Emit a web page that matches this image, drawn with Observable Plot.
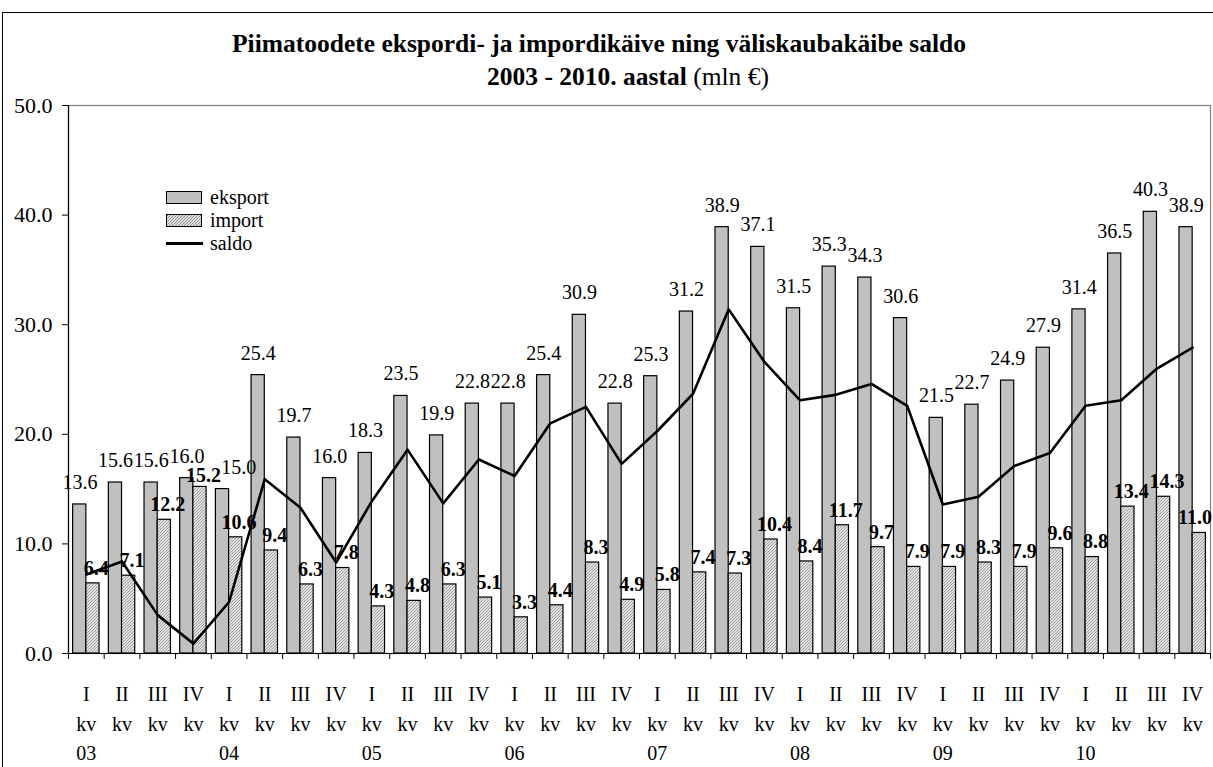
<!DOCTYPE html>
<html><head><meta charset="utf-8">
<script src="https://cdn.jsdelivr.net/npm/d3@7"></script>
<script src="https://cdn.jsdelivr.net/npm/@observablehq/plot@0.6"></script>
<style>
html,body{margin:0;padding:0;background:#fff;overflow:hidden;width:1213px;height:767px;position:relative;}
#frame{position:absolute;left:2px;top:12px;width:1240px;height:800px;border:1.5px solid #000;box-sizing:border-box;}
#title{position:absolute;left:0;width:1198px;top:27px;text-align:center;font-family:"Liberation Serif","Times New Roman",serif;font-weight:bold;font-size:25.5px;line-height:33px;color:#000;}
#title .l2{position:relative;left:29px;}
#title .n{font-weight:normal;}
#chart{position:absolute;left:0;top:90px;}
#legend{position:absolute;left:166px;top:186px;font-family:"Liberation Serif","Times New Roman",serif;font-size:20px;line-height:23px;color:#000;}
#legend .row{display:flex;align-items:center;height:23px;}
#legend .sw{width:34px;height:11px;border:1.3px solid #000;margin-right:8px;}
#legend .ln{width:37px;height:3px;background:#000;margin-right:7px;}
</style>
</head><body>
<div id="frame"></div>
<div id="title">Piimatoodete ekspordi- ja impordikäive ning väliskaubakäibe saldo<br><span class="l2">2003 - 2010. aastal <span class="n">(mln €)</span></span></div>
<div id="chart"></div>
<div id="legend">
  <div class="row"><div class="sw" style="background:#c0c0c0"></div>eksport</div>
  <div class="row"><div class="sw" style="background:repeating-linear-gradient(-45deg,#e2e2e2 0 1.3px,#8c8c8c 1.3px 2.1px)"></div>import</div>
  <div class="row"><div class="ln"></div>saldo</div>
</div>
<script>
const quarterNames = ["I", "II", "III", "IV"];
const years = ["03", "04", "05", "06", "07", "08", "09", "10"];
const eksport = [13.6, 15.6, 15.6, 16.0, 15.0, 25.4, 19.7, 16.0, 18.3, 23.5, 19.9, 22.8,
                 22.8, 25.4, 30.9, 22.8, 25.3, 31.2, 38.9, 37.1, 31.5, 35.3, 34.3, 30.6,
                 21.5, 22.7, 24.9, 27.9, 31.4, 36.5, 40.3, 38.9];
const importVals = [6.4, 7.1, 12.2, 15.2, 10.6, 9.4, 6.3, 7.8, 4.3, 4.8, 6.3, 5.1,
                    3.3, 4.4, 8.3, 4.9, 5.8, 7.4, 7.3, 10.4, 8.4, 11.7, 9.7, 7.9,
                    7.9, 8.3, 7.9, 9.6, 8.8, 13.4, 14.3, 11.0];
const saldo = [7.2, 8.4, 3.5, 0.9, 4.7, 15.9, 13.3, 8.3, 13.9, 18.6, 13.7, 17.7,
               16.2, 21.0, 22.5, 17.3, 20.3, 23.7, 31.4, 26.6, 23.1, 23.6, 24.6, 22.6,
               13.6, 14.3, 17.1, 18.3, 22.6, 23.1, 26.0, 27.9];
const yTicks = [0, 10, 20, 30, 40, 50];

const rows = eksport.map((e, i) => ({
  i,
  q: quarterNames[i % 4],
  year: i % 4 === 0 ? years[i / 4] : "",
  eksport: e,
  imp: importVals[i],
  saldo: saldo[i]
}));

// layout
const W = 1213, H = 677, mt = 15, mb = 114, ml = 68, mr = 3;
const nCat = rows.length, yMax = 50;
const pxX = (W - ml - mr) / nCat, pxY = (H - mt - mb) / yMax;

// value labels with simple collision avoidance
const fs = 20, lh = 18;
const labels = [];
rows.forEach(d => {
  labels.push({kind: "e", xv: d.i + 0.32, v: d.eksport, off: -22});
  labels.push({kind: "i", xv: d.i + 0.78, v: d.imp, off: -15});
});
labels.sort((a, b) => a.xv - b.xv);
const cands = [];
for (const s of [0, 2, -2, 4, -4, 6, -6, 8, -8]) cands.push([0, s]);
for (let dx = 2; dx <= 18; dx += 2) for (const s of [0, 2, -2, 4, -4]) cands.push([dx, s]);
for (let s = 10; s <= 60; s += 2) { cands.push([0, s]); cands.push([0, -s]); }
const placed = [];
for (const L of labels) {
  L.text = L.v.toFixed(1);
  L.w = (L.text.length - 1) * 0.5 * fs + 0.25 * fs;
  const maxCx = (W - ml) - L.w / 2 - 1;
  const cx0 = L.xv * pxX;
  const barTop = -L.v * pxY;
  const base = barTop + L.off;
  for (const [dx, dy] of cands) {
    const cx = Math.min(cx0 + dx, maxCx);
    const cy = base + dy;
    if (cy + lh / 2 > barTop - 1) continue;
    const hit = placed.some(P => Math.abs(P.cx - cx) < (P.w + L.w) / 2 && Math.abs(P.cy - cy) < lh);
    if (!hit) { L.cx = cx; L.cy = cy; break; }
  }
  if (L.cy === undefined) { L.cx = Math.min(cx0, maxCx); L.cy = base; }
  L.xPos = L.cx / pxX;
  L.yPos = -L.cy / pxY;
  placed.push(L);
}

const chart = Plot.plot({
  width: W,
  height: H,
  marginTop: mt,
  marginBottom: mb,
  marginLeft: ml,
  marginRight: mr,
  style: {fontFamily: "'Liberation Serif', 'Times New Roman', serif", fontSize: "20px", color: "#000", background: "transparent", overflow: "visible"},
  x: {domain: [0, nCat], axis: null},
  y: {domain: [0, yMax], axis: null},
  marks: [
    Plot.frame({stroke: "#808080", strokeWidth: 1.2}),
    Plot.axisY(yTicks, {tickFormat: d3.format(".1f"), tickSize: 6, tickPadding: 10, fontSize: 22, label: null, stroke: "#000"}),
    Plot.axisX(d3.range(nCat + 1), {tickSize: 6, tickFormat: () => "", label: null, stroke: "#000"}),
    Plot.rectY(rows, {x1: d => d.i + 0.13, x2: d => d.i + 0.5, y1: 0, y2: "eksport", fill: "#c0c0c0", stroke: "#000", strokeWidth: 1.2}),
    Plot.rectY(rows, {x1: d => d.i + 0.5, x2: d => d.i + 0.87, y1: 0, y2: "imp", fill: "url(#hatch)", stroke: "#000", strokeWidth: 1.2}),
    Plot.ruleX([0], {stroke: "#000", strokeWidth: 1.2}),
    Plot.ruleY([0], {stroke: "#000", strokeWidth: 1.2}),
    Plot.line(rows, {x: d => d.i + 0.5, y: "saldo", stroke: "#000", strokeWidth: 2.6}),
    Plot.text(labels.filter(L => L.kind === "e"), {x: "xPos", y: "yPos", text: "text", fontSize: fs}),
    Plot.text(labels.filter(L => L.kind === "i"), {x: "xPos", y: "yPos", text: "text", fontSize: fs, fontWeight: "bold"}),
    Plot.text(rows, {x: d => d.i + 0.5, y: 0, text: d => d.q + "\nkv" + (d.year ? "\n" + d.year : ""), lineAnchor: "top", dy: 27, lineHeight: 1.47, fontSize: 20})
  ]
});

const defs = d3.select(chart).insert("defs", ":first-child");
const pat = defs.append("pattern").attr("id", "hatch").attr("patternUnits", "userSpaceOnUse")
  .attr("width", 3).attr("height", 3);
pat.append("rect").attr("width", 3).attr("height", 3).attr("fill", "#e2e2e2");
pat.append("path").attr("d", "M-1,1 L1,-1 M0,3 L3,0 M2,4 L4,2").attr("stroke", "#8c8c8c").attr("stroke-width", 0.8);

document.getElementById("chart").appendChild(chart);
</script>
</body></html>
